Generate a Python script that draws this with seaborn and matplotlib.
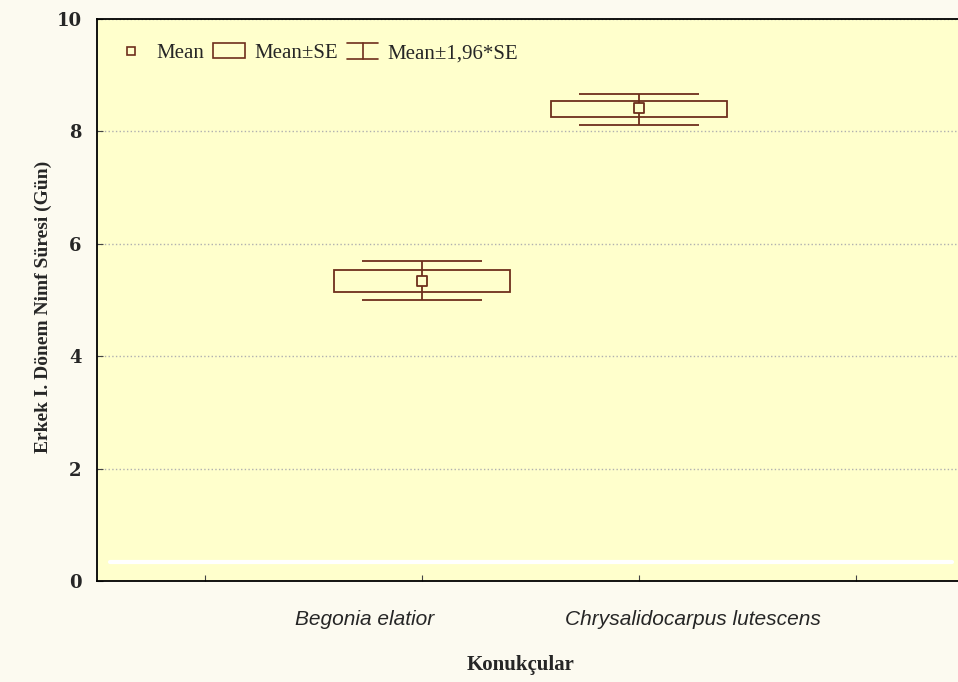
import numpy as np
import pandas as pd
import matplotlib
matplotlib.use('Agg')
import matplotlib.pyplot as plt
import matplotlib.transforms as mtransforms
import seaborn as sns
from matplotlib.lines import Line2D
from matplotlib.patches import Rectangle
from matplotlib.legend_handler import HandlerBase

# Values
hosts = ['Begonia elatior', 'Chrysalidocarpus lutescens']
mean = [5.34, 8.42]
se_low = [5.14, 8.26]
se_high = [5.53, 8.55]
ci_low = [5.00, 8.11]
ci_high = [5.69, 8.67]

df = pd.DataFrame({'host': hosts, 'pos': np.arange(len(hosts)), 'mean': mean,
                   'se_low': se_low, 'se_high': se_high,
                   'ci_low': ci_low, 'ci_high': ci_high})

sns.set_style('white')
plt.rcParams['font.family'] = ['Liberation Serif', 'DejaVu Serif']

line_col = '#6e2f1c'

fig = plt.figure(figsize=(9.58, 6.82), dpi=100, facecolor='#fcfaf0')
ax = fig.add_axes([0.101, 0.148, 0.906, 0.824])
ax.set_facecolor('#ffffcc')

# Mean +- SE boxes
ax.bar(df['pos'], df['se_high'] - df['se_low'], bottom=df['se_low'], width=0.81,
       fill=False, edgecolor=line_col, linewidth=1.3, zorder=3)

# Mean +- 1.96*SE whiskers
ax.errorbar(df['pos'], df['mean'],
            yerr=[df['mean'] - df['ci_low'], df['ci_high'] - df['mean']],
            fmt='none', ecolor=line_col, elinewidth=1.3, capsize=43, capthick=1.3, zorder=2)

# Mean markers
sns.scatterplot(data=df, x='pos', y='mean', marker='s', s=45, facecolor='#ffffcc',
                edgecolor=line_col, linewidth=1.3, ax=ax, zorder=4, legend=False)

# white stripe near the bottom
ax.axhline(0.34, xmin=0.015, xmax=0.985, color='white', linewidth=3, zorder=1)

ax.set_xlim(-1.5, 2.5)
ax.set_ylim(0, 10)
ax.set_xticks([-1, 0, 1, 2])
ax.set_xticklabels([''] + hosts + [''], family='Liberation Sans', style='italic', fontsize=15)
ax.set_yticks([0, 2, 4, 6, 8, 10])
ax.set_yticklabels(['0', '2', '4', '6', '8', '10'], family='DejaVu Serif', fontweight='bold', fontsize=13)
ax.tick_params(axis='x', bottom=True, direction='in', length=4, pad=21, color='#444444')
ax.tick_params(axis='y', left=True, direction='in', length=4, pad=11, color='#444444')
ax.yaxis.grid(True, linestyle=':', color='#b0b0b0', linewidth=1)
ax.xaxis.grid(False)
for s in ['left', 'bottom', 'top']:
    ax.spines[s].set_color('black')
    ax.spines[s].set_linewidth(1.3)
ax.spines['right'].set_visible(False)

ax.set_xlabel('Konukçular', fontweight='bold', fontsize=15)
ax.xaxis.set_label_coords(0.488, -0.131)
ax.set_ylabel('Erkek I. Dönem Nimf Süresi (Gün)', fontweight='bold', fontsize=14)
ax.yaxis.set_label_coords(-0.052, 0.4875)


class WhiskerHandler(HandlerBase):
    def create_artists(self, legend, orig_handle, x0, y0, width, height, fontsize, trans):
        cx = x0 + width / 2
        top = Line2D([x0, x0 + width], [y0 + height, y0 + height], color=line_col, lw=1.2, transform=trans)
        bot = Line2D([x0, x0 + width], [y0 - 1, y0 - 1], color=line_col, lw=1.2, transform=trans)
        mid = Line2D([cx, cx], [y0 - 1, y0 + height], color=line_col, lw=1.2, transform=trans)
        return [top, bot, mid]


h_mean = Line2D([], [], marker='s', linestyle='none', markersize=6,
                markerfacecolor='#ffffcc', markeredgecolor=line_col, markeredgewidth=1.2)
h_box = Rectangle((0, 0), 1, 1, fill=False, edgecolor=line_col, linewidth=1.2)
h_whisk = object()
ax.legend([h_mean, h_box, h_whisk], ['Mean', 'Mean±SE', 'Mean±1,96*SE'],
          handler_map={h_whisk: WhiskerHandler()}, ncol=3, loc='upper left',
          bbox_to_anchor=(0.0, 0.99), frameon=False, fontsize=15,
          handlelength=1.5, handletextpad=0.45, columnspacing=0.45)

# labels in the original sit a little off their ticks
fig.canvas.draw()
ticks = ax.xaxis.get_major_ticks()
for tick, dx in zip(ticks[1:3], [-0.58, 0.54]):
    lab = tick.label1
    lab.set_transform(lab.get_transform() + mtransforms.ScaledTranslation(dx, 0, fig.dpi_scale_trans))

fig.savefig('out.png', dpi=100, facecolor=fig.get_facecolor())
